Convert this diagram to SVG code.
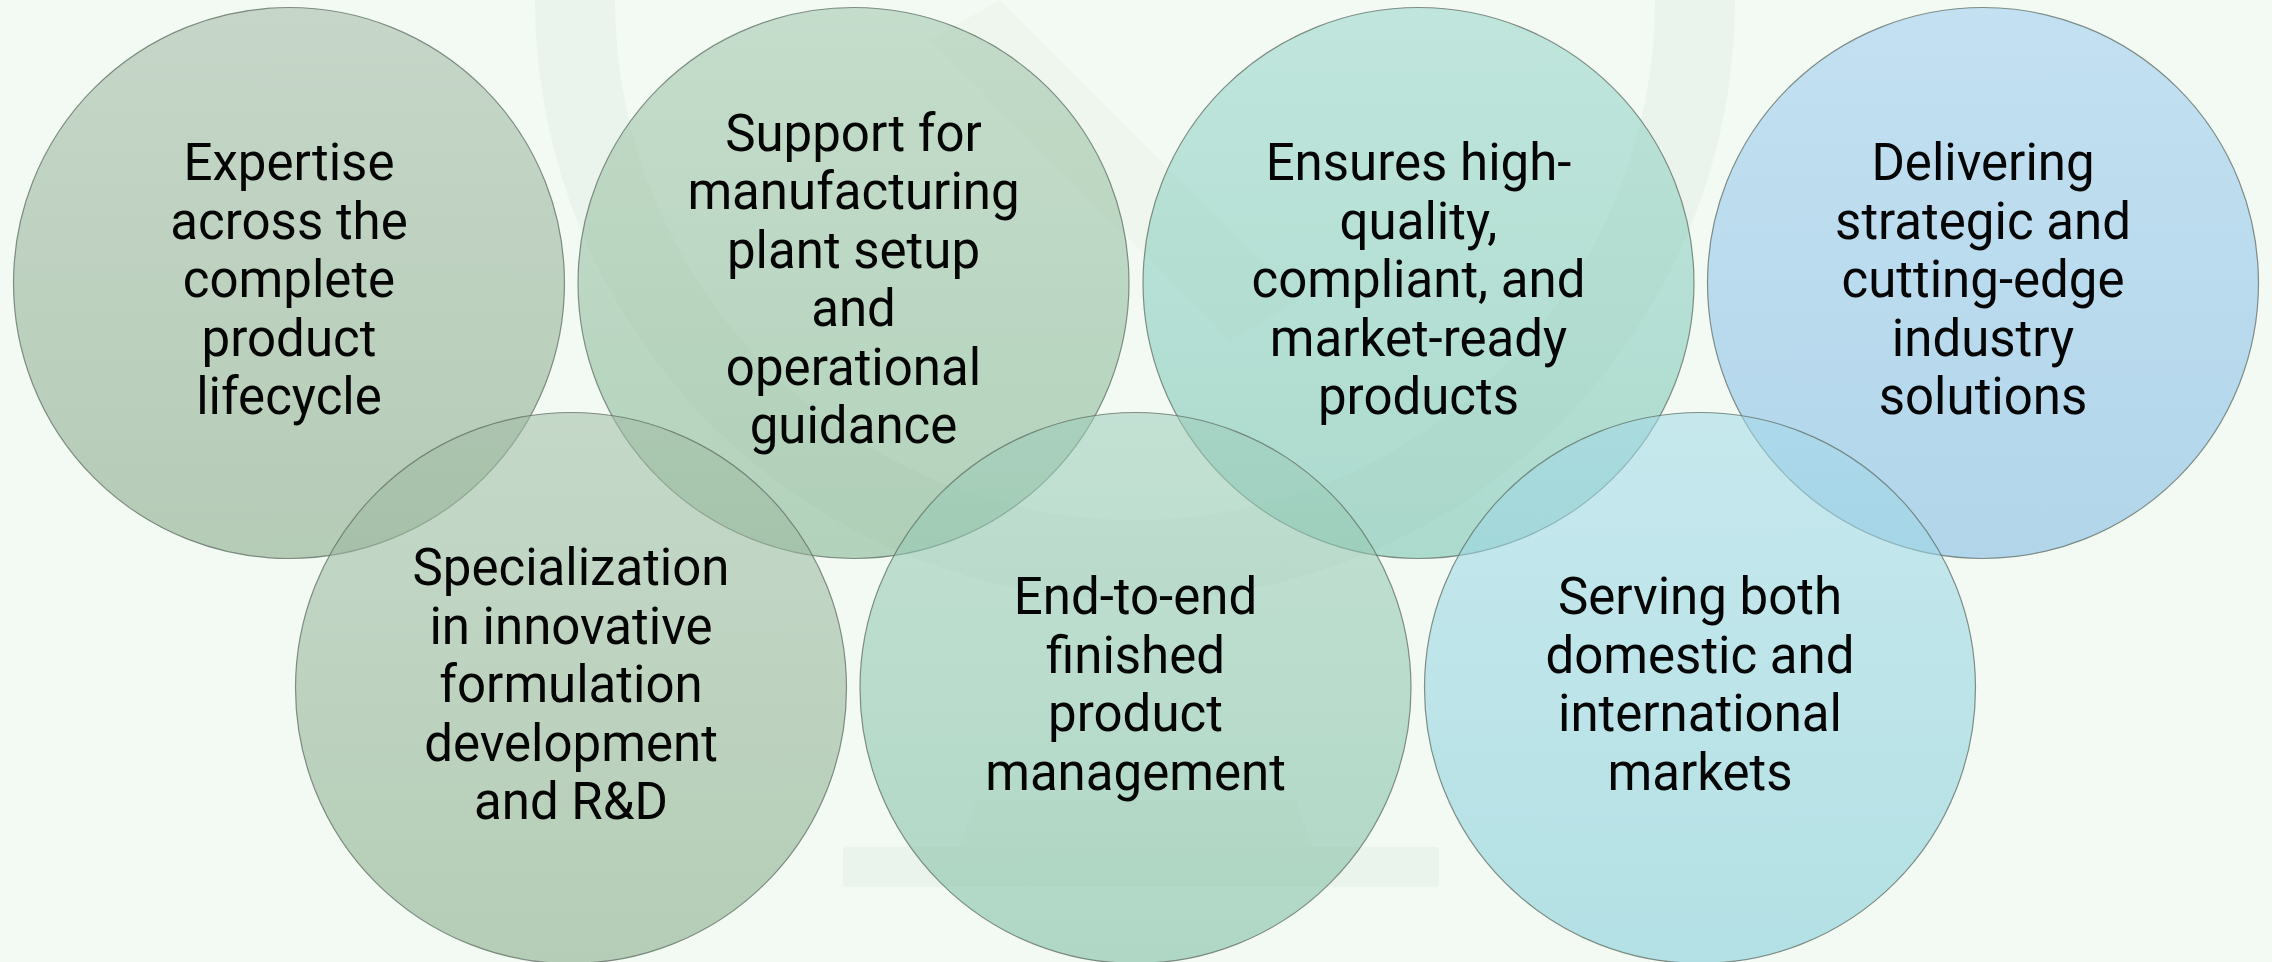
<svg xmlns="http://www.w3.org/2000/svg" width="2272" height="962" viewBox="0 0 2272 962">
  <style>
    .bubble { stroke: #5f6e64; stroke-width: 1.2; stroke-opacity: 0.75; fill-opacity: 0.55; }
    .label { font-family: Roboto, "Liberation Sans", Arial, sans-serif; font-size: 51px; fill: #050505; text-anchor: middle; }
    .wm { fill: #e4efe4; }
  </style>
  <defs>
    <linearGradient id="g1" x1="0" y1="0" x2="0" y2="1"><stop offset="0" stop-color="#a2b9a5"/><stop offset="1" stop-color="#83a584"/></linearGradient>
    <linearGradient id="g2" x1="0" y1="0" x2="0" y2="1"><stop offset="0" stop-color="#a0c4aa"/><stop offset="1" stop-color="#7fb18d"/></linearGradient>
    <linearGradient id="g3" x1="0" y1="0" x2="0" y2="1"><stop offset="0" stop-color="#97d4c9"/><stop offset="1" stop-color="#73c0ae"/></linearGradient>
    <linearGradient id="g4" x1="0" y1="0" x2="0" y2="1"><stop offset="0" stop-color="#9ccbef"/><stop offset="1" stop-color="#7eb7e3"/></linearGradient>
    <linearGradient id="g5" x1="0" y1="0" x2="0" y2="1"><stop offset="0" stop-color="#a0bca5"/><stop offset="1" stop-color="#83a884"/></linearGradient>
    <linearGradient id="g6" x1="0" y1="0" x2="0" y2="1"><stop offset="0" stop-color="#9cccb9"/><stop offset="1" stop-color="#7aba9f"/></linearGradient>
    <linearGradient id="g7" x1="0" y1="0" x2="0" y2="1"><stop offset="0" stop-color="#a2d9e8"/><stop offset="1" stop-color="#80cbd8"/></linearGradient>
  </defs>

  <rect x="0" y="0" width="2272" height="962" fill="#f2faf3"/>

  <!-- faint watermark -->
  <g id="watermark" opacity="0.5">
    <path class="wm" d="M 535 0 A 600 600 0 0 0 1735 0 L 1655 0 A 520 520 0 0 1 615 0 Z"/>
    <path class="wm" d="M 930 40 L 1000 0 L 1300 300 L 1230 340 Z" opacity="0.6"/>
    <path class="wm" d="M 976 800 L 1296 800 L 1312 847 L 960 847 Z" opacity="0.6"/>
    <rect class="wm" x="843" y="847" width="596" height="40" rx="4"/>
  </g>

  <g id="connectors"></g>

  <g id="node-expertise">
    <circle class="bubble" cx="289" cy="283" r="275.5" fill="url(#g1)"/>
    <text class="label"><tspan x="289" y="180">Expertise</tspan><tspan x="289" y="238.5">across the</tspan><tspan x="289" y="297">complete</tspan><tspan x="289" y="355.5">product</tspan><tspan x="289" y="414">lifecycle</tspan></text>
  </g>
  <g id="node-support">
    <circle class="bubble" cx="853.5" cy="283" r="275.5" fill="url(#g2)"/>
    <text class="label"><tspan x="853.5" y="150.75">Support for</tspan><tspan x="853.5" y="209.25">manufacturing</tspan><tspan x="853.5" y="267.75">plant setup</tspan><tspan x="853.5" y="326.25">and</tspan><tspan x="853.5" y="384.75">operational</tspan><tspan x="853.5" y="443.25">guidance</tspan></text>
  </g>
  <g id="node-ensures">
    <circle class="bubble" cx="1418.5" cy="283" r="275.5" fill="url(#g3)"/>
    <text class="label"><tspan x="1418.5" y="180">Ensures high-</tspan><tspan x="1418.5" y="238.5">quality,</tspan><tspan x="1418.5" y="297">compliant, and</tspan><tspan x="1418.5" y="355.5">market-ready</tspan><tspan x="1418.5" y="414">products</tspan></text>
  </g>
  <g id="node-delivering">
    <circle class="bubble" cx="1983" cy="283" r="275.5" fill="url(#g4)"/>
    <text class="label"><tspan x="1983" y="180">Delivering</tspan><tspan x="1983" y="238.5">strategic and</tspan><tspan x="1983" y="297">cutting-edge</tspan><tspan x="1983" y="355.5">industry</tspan><tspan x="1983" y="414">solutions</tspan></text>
  </g>
  <g id="node-specialization">
    <circle class="bubble" cx="571" cy="688" r="275.5" fill="url(#g5)"/>
    <text class="label"><tspan x="571" y="585">Specialization</tspan><tspan x="571" y="643.5">in innovative</tspan><tspan x="571" y="702">formulation</tspan><tspan x="571" y="760.5">development</tspan><tspan x="571" y="819">and R&amp;D</tspan></text>
  </g>
  <g id="node-endtoend">
    <circle class="bubble" cx="1135.5" cy="688" r="275.5" fill="url(#g6)"/>
    <text class="label"><tspan x="1135.5" y="614.25">End-to-end</tspan><tspan x="1135.5" y="672.75">finished</tspan><tspan x="1135.5" y="731.25">product</tspan><tspan x="1135.5" y="789.75">management</tspan></text>
  </g>
  <g id="node-serving">
    <circle class="bubble" cx="1700" cy="688" r="275.5" fill="url(#g7)"/>
    <text class="label"><tspan x="1700" y="614.25">Serving both</tspan><tspan x="1700" y="672.75">domestic and</tspan><tspan x="1700" y="731.25">international</tspan><tspan x="1700" y="789.75">markets</tspan></text>
  </g>
</svg>
